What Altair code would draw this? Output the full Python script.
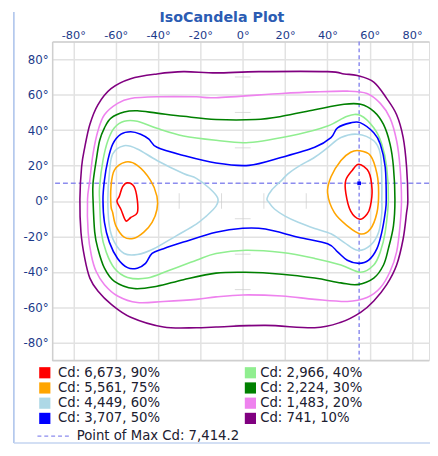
import altair as alt
import pandas as pd

# ---------------- data (degrees) ----------------
# iso-candela loops, each a list of (horizontal angle, vertical angle)
cd741_10 = [(-12.6, 72.3), (-28, 73), (-40.5, 71.7), (-52.9, 69), (-62.2, 63.4), (-68.4, 54.3),
            (-72.2, 43.2), (-74.6, 30.3), (-76.1, 19.2), (-76.9, 0.8), (-76.4, -17.6), (-74.6, -32.4),
            (-72.2, -43.5), (-68.4, -50.8), (-62.2, -58.2), (-52.9, -65.6), (-37.4, -71.1), (-21.9, -71.5),
            (-12.6, -71.1), (10.7, -70.2), (34, -71.5), (46.4, -68.4), (55.7, -62.8), (61.9, -56.4),
            (68, -47.2), (72.7, -36.1), (75.8, -21.3), (77.4, -6.6), (78, 0.8), (77.4, 19.2),
            (75.8, 35.8), (72.7, 48.7), (68, 57.9), (61.9, 67.1), (54.1, 70.8), (47.9, 71.7),
            (40.1, 73), (7.6, 73)]
cd1483_20 = [(-12.6, 58.3), (-21.9, 58.8), (-40.5, 58.8), (-52.9, 57.9), (-59.1, 55.1), (-65.3, 48.7),
             (-68.4, 39.5), (-70.7, 26.6), (-72.2, 11.8), (-73.3, 0.8), (-73, -17.6), (-71.5, -30.6),
             (-69.2, -39.8), (-65.3, -47.2), (-59.1, -53.6), (-49.8, -57.3), (-37.4, -56.7), (-21.9, -55.5),
             (-12.6, -54.1), (0, -53), (18.5, -53.6), (34, -55.5), (49.4, -56.7), (58.7, -54.5),
             (65, -49), (69.6, -39.8), (72.7, -28.7), (74.3, -14), (75, 0.8), (74.3, 19.2),
             (72.7, 34), (69.6, 46.8), (65, 55.1), (58.7, 60.7), (49.4, 62), (34, 61.6), (18.5, 60.7)]
cd2224_30 = [(-12.6, 46), (-28, 47.8), (-40.5, 49.6), (-49.8, 50.9), (-56, 50.2), (-62.2, 46.8),
             (-65.3, 41.3), (-67.6, 34), (-69.2, 22.9), (-70.7, 10), (-70.7, 0.8), (-69.9, -17.6),
             (-68.4, -26.9), (-65.3, -37.9), (-60.6, -45.3), (-51.3, -49.4), (-40.5, -48.1), (-28, -44.4),
             (-12.6, -40.7), (1.4, -40.2), (18.5, -41.3), (34, -43.5), (46.4, -46.2), (54.1, -47.2),
             (61.9, -43.5), (66.5, -36.1), (68.8, -26.9), (71.2, -14), (71.9, 0.8), (71.2, 19.2),
             (69.6, 32.1), (66.5, 43.2), (61.9, 50.6), (55.7, 54.6), (47.9, 54.6), (34, 51.5),
             (18.5, 47.8), (6, 46)]
cd2966_40 = [(-12.6, 34.3), (-28, 36.7), (-40.5, 41), (-49.8, 45), (-56, 45), (-60.6, 41.3),
             (-63.7, 34), (-66, 22.9), (-67.6, 8.1), (-67.6, 0.8), (-66.8, -17.6), (-64.5, -28.7),
             (-60.6, -37.9), (-54.4, -43.1), (-45.1, -43.5), (-34.3, -38.9), (-21.9, -33.4), (-12.6, -29.6),
             (1.4, -27.8), (18.5, -29.1), (34, -32.4), (46.4, -36.1), (55.7, -40.2), (61.9, -36.1),
             (65, -28.7), (67.3, -17.6), (68.8, 0.8), (68, 19.2), (65.7, 32.1), (61.9, 41.3),
             (55.7, 48.3), (49.4, 47.8), (40.1, 42.3), (26.2, 37.7), (2.9, 33)]
cd3707_50 = [(-12.6, 21.4), (-28, 25.7), (-40.5, 30.3), (-44.3, 34.9), (-48.2, 37.7), (-52.9, 39.1),
             (-57.5, 37.7), (-61.4, 32.1), (-63.7, 22.9), (-65.3, 11.8), (-66, 0.8), (-65.3, -12.1),
             (-63, -23.2), (-59.1, -32.4), (-54.4, -37.6), (-49.8, -37.9), (-45.9, -35.2), (-42.8, -29.6),
             (-37.4, -26.9), (-28, -23.2), (-12.6, -17.6), (0, -15.4), (10.7, -15.8), (26.2, -20.4),
             (40.1, -24.1), (44.8, -28.7), (49.4, -33.4), (54.9, -35.2), (59.5, -33.4), (63.4, -26.9),
             (65.7, -17.6), (67.3, -6.6), (67.8, 0.8), (67.3, 19.2), (65, 32.1), (61.9, 38.5),
             (55.7, 44.1), (51, 44.1), (44.8, 41.3), (41.7, 35.8), (34, 30.3), (18.5, 24.7), (2.9, 20.1)]
cd4449_60_left = [(-56, 31.2), (-49.8, 29.4), (-40.5, 22.9), (-28, 15.5), (-21.9, 12.8), (-15.7, 7.2),
                  (-11.8, 1.7), (-12.6, -2.9), (-17.2, -8.5), (-21.9, -13), (-31.2, -19.5), (-42, -26.9),
                  (-49.8, -30.2), (-56, -29.6), (-60.6, -23.2), (-63, -14), (-63.7, 0.8), (-63, 15.5),
                  (-61.4, 26.6)]
cd4449_60_right = [(54.1, 37.7), (61.9, 34), (65, 26.6), (65.7, 11.8), (65.7, 0.8), (65.7, -6.6),
                   (64.2, -17.6), (60.3, -25), (54.1, -27.8), (48, -23.5), (41.7, -18.5), (34, -15.5),
                   (26.2, -12), (20, -8.5), (15, -4.5), (12.2, -0.5), (11.5, 1.5), (13.8, 6.3),
                   (18.5, 11.8), (21.5, 15.5), (27, 20), (34, 24.7), (40, 30), (46.4, 35.8)]
cd5561_75_left = [(-55.2, 22), (-49.8, 20.1), (-43.6, 11.8), (-40.5, 2.6), (-40.5, -4.8), (-42.8, -12.1),
                  (-46.7, -17.6), (-51.3, -21), (-56, -20.4), (-59.9, -14), (-61.4, -6.6), (-62.2, -2.9),
                  (-62.2, 8.1), (-60.6, 17.4)]
cd5561_75_right = [(54.9, 28.4), (60.3, 25.7), (63.4, 15.5), (64.2, 4.5), (63.4, -6.6), (60.3, -15.8),
                   (55.7, -18.6), (49.4, -14), (43.3, -6.6), (40.1, 4.5), (41.7, 13.7), (46.4, 22.9),
                   (51, 27.5)]
cd6673_90_left = [(-54.4, 10.3), (-51.3, 8.1), (-49.8, 0.8), (-49.8, -6.6), (-52.9, -9.3), (-55.2, -11.2),
                  (-57.5, -4.8), (-59.4, -0.2), (-58.3, 2.6), (-56.7, 8.1)]
cd6673_90_right = [(54.9, 20.7), (59.5, 16.4), (61.1, 6.3), (60.3, -2.9), (58.7, -7.5), (55.3, -10.3),
                   (51, -5.7), (48.7, 4.5), (48.7, 11.8), (51.8, 17.4)]

# legend (order as in the reference: column by column)
level_names = ["90%", "75%", "60%", "50%", "40%", "30%", "20%", "10%"]
legend_labels = ["Cd: 6,673, 90%", "Cd: 5,561, 75%", "Cd: 4,449, 60%", "Cd: 3,707, 50%",
                 "Cd: 2,966, 40%", "Cd: 2,224, 30%", "Cd: 1,483, 20%", "Cd: 741, 10%"]
level_colors = ["#ff0000", "#ffa500", "#add8e6", "#0000ff", "#90ee90", "#008000", "#ee82ee", "#800080"]
level_widths = [1.6, 1.6, 1.4, 2.0, 1.6, 1.6, 1.6, 1.6]

max_x = [55]
max_y = [10]
max_label = "Point of Max Cd: 7,414.2"

x_ticks = [-80, -60, -40, -20, 0, 20, 40, 60, 80]
y_ticks = [-80, -60, -40, -20, 0, 20, 40, 60, 80]
minor_x = [-30, -10, 10, 30]
minor_y = [-70, -50, -30, -10, 10, 30, 50, 70]

loops = [
    ("10%", "l10", cd741_10), ("20%", "l20", cd1483_20), ("30%", "l30", cd2224_30),
    ("40%", "l40", cd2966_40), ("50%", "l50", cd3707_50),
    ("60%", "l60a", cd4449_60_left), ("60%", "l60b", cd4449_60_right),
    ("75%", "l75a", cd5561_75_left), ("75%", "l75b", cd5561_75_right),
    ("90%", "l90a", cd6673_90_left), ("90%", "l90b", cd6673_90_right),
]

rows = []
for level, loop_id, pts in loops:
    for i, (px, py) in enumerate(pts):
        rows.append({"level": level, "loop": loop_id, "x": px, "y": py, "i": i})
df = pd.DataFrame(rows)

# ---------------- styling ----------------
W, H = 384, 325
FONT = "DejaVu Sans"
LABEL_COLOR = "#1c3a8a"
GRID = "#e2e2e2"
BORDER = "#cfcfcf"
CROSS = "#8c8cee"

X = alt.X("x:Q",
          scale=alt.Scale(domain=[-90, 88], nice=False, zero=False),
          axis=alt.Axis(orient="top", values=x_ticks, labelExpr="datum.value + '°'",
                        grid=True, gridColor=GRID, gridWidth=1.5, ticks=False, tickSize=0,
                        domain=True, domainColor=BORDER, domainWidth=1.5,
                        labelColor=LABEL_COLOR, labelFont=FONT, labelFontSize=11.5,
                        labelPadding=1, labelOverlap=False, title=None))
Y = alt.Y("y:Q",
          scale=alt.Scale(domain=[-90, 90], nice=False, zero=False),
          axis=alt.Axis(orient="left", values=y_ticks, labelExpr="datum.value + '°'",
                        grid=True, gridColor=GRID, gridWidth=1.5, ticks=False, tickSize=0,
                        domain=True, domainColor=BORDER, domainWidth=1.5,
                        labelColor=LABEL_COLOR, labelFont=FONT, labelFontSize=12,
                        labelPadding=4, labelOverlap=False, title=None))

one = pd.DataFrame({"a": [0]})

minor_v = alt.Chart(pd.DataFrame({"x": minor_x, "y": [0] * len(minor_x)})).mark_tick(
    orient="vertical", size=16, thickness=1, color="#cccccc").encode(x=X, y=Y)
minor_h = alt.Chart(pd.DataFrame({"x": [0] * len(minor_y), "y": minor_y})).mark_tick(
    orient="horizontal", size=16, thickness=1, color="#cccccc").encode(x=X, y=Y)

vline = alt.Chart(pd.DataFrame({"x": max_x})).mark_rule(
    color=CROSS, strokeDash=[4, 3], strokeWidth=1.5).encode(x=X)
hline = alt.Chart(pd.DataFrame({"y": max_y})).mark_rule(
    color=CROSS, strokeDash=[5, 3], strokeWidth=1.5).encode(y=Y)

lines = alt.Chart(df).mark_line(interpolate="cardinal-closed").encode(
    x=X, y=Y,
    color=alt.Color("level:N", scale=alt.Scale(domain=level_names, range=level_colors), legend=None),
    strokeWidth=alt.StrokeWidth("level:N", scale=alt.Scale(domain=level_names, range=level_widths),
                                legend=None),
    detail="loop:N",
    order="i:Q",
)

max_pt = alt.Chart(pd.DataFrame({"x": max_x, "y": max_y})).mark_square(
    size=14, color="#0000ff", opacity=1).encode(x=X, y=Y)

bottom_border = alt.Chart(one).mark_rule(color=BORDER, strokeWidth=1.5).encode(
    x=alt.value(0), x2=alt.value(W), y=alt.value(H))

title = alt.Chart(one).mark_text(
    text="IsoCandela Plot", font=FONT, fontSize=14.5, fontWeight="bold", color="#2b5cb3",
    align="center", baseline="alphabetic").encode(x=alt.value(173), y=alt.value(-19.5))

frame_left = alt.Chart(one).mark_rule(color="#a9c0ea", strokeWidth=1.5).encode(
    x=alt.value(-39), y=alt.value(-30), y2=alt.value(409))
frame_bottom = alt.Chart(one).mark_rule(color="#c5d5f0", strokeWidth=1.5).encode(
    x=alt.value(-39), x2=alt.value(W + 1), y=alt.value(409))

legend_layers = []
sw_x = [-7.5, 202]
tx_x = [6, 212]
for k, (lab, col) in enumerate(zip(legend_labels, level_colors)):
    c, r = k // 4, k % 4
    yy = 337.5 + r * 15.5
    legend_layers.append(
        alt.Chart(one).mark_square(size=130, color=col, opacity=1).encode(
            x=alt.value(sw_x[c]), y=alt.value(yy)))
    legend_layers.append(
        alt.Chart(one).mark_text(text=lab, font=FONT, fontSize=13.5, color="#202030",
                                 align="left", baseline="middle").encode(
            x=alt.value(tx_x[c]), y=alt.value(yy)))

legend_layers.append(
    alt.Chart(one).mark_rule(color=CROSS, strokeDash=[4, 3], strokeWidth=1.2).encode(
        x=alt.value(-15), x2=alt.value(19), y=alt.value(402)))
legend_layers.append(
    alt.Chart(one).mark_text(text=max_label, font=FONT, fontSize=13.5, color="#202030",
                             align="left", baseline="middle").encode(
        x=alt.value(25), y=alt.value(402)))

chart = alt.layer(
    minor_v, minor_h, vline, hline, lines, max_pt, bottom_border, title,
    frame_left, frame_bottom, *legend_layers
).properties(
    width=W, height=H,
    autosize=alt.AutoSizeParams(type="none"),
    padding={"left": 45, "top": 30, "right": 1, "bottom": 85},
).configure_view(stroke=None).configure(background="white")

chart.save("out.html", embed_options={"renderer": "svg", "actions": False})
